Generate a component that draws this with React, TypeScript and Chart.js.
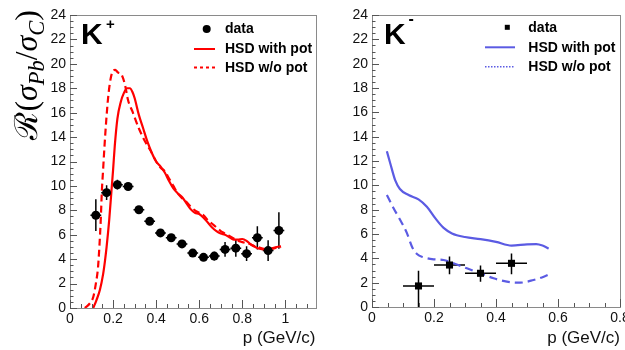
import React, { useEffect, useRef } from 'react';
import { Chart, registerables } from 'chart.js';

Chart.register(...registerables);

// ---------- K+ panel data ----------
const kpP = [0.12, 0.17, 0.22, 0.27, 0.32, 0.37, 0.42, 0.47, 0.52, 0.57, 0.62, 0.67, 0.72, 0.77, 0.82, 0.87, 0.92, 0.97];
const kpR = [7.6, 9.45, 10.1, 9.95, 8.05, 7.1, 6.15, 5.75, 5.25, 4.5, 4.15, 4.25, 4.8, 4.9, 4.45, 5.75, 4.7, 6.35];
const kpErr = [1.3, 0.6, 0.4, 0.3, 0.25, 0.25, 0.3, 0.3, 0.3, 0.3, 0.3, 0.35, 0.6, 0.7, 0.6, 0.95, 0.85, 1.5];
const kpErrP = 0.025;

const kpWithP = [0.108, 0.123, 0.139, 0.154, 0.162, 0.17, 0.182, 0.193, 0.2, 0.208, 0.22, 0.236, 0.25, 0.265, 0.278, 0.29, 0.30, 0.32, 0.34, 0.36, 0.38, 0.40, 0.42, 0.44, 0.46, 0.48, 0.50, 0.52, 0.54, 0.56, 0.58, 0.60, 0.62, 0.64, 0.66, 0.68, 0.70, 0.72, 0.74, 0.76, 0.78, 0.80, 0.82, 0.84, 0.86, 0.88, 0.90, 0.92, 0.94, 0.96, 0.98];
const kpWithR = [0, 0.65, 1.5, 2.8, 3.8, 5.0, 7.2, 9.7, 11.3, 13.3, 15.5, 16.9, 17.6, 18.0, 18.0, 17.7, 17.2, 15.8, 14.7, 13.6, 12.7, 12.0, 11.6, 11.1, 10.4, 9.8, 9.4, 9.1, 8.6, 8.1, 7.8, 7.7, 7.4, 7.0, 6.6, 6.3, 6.1, 6.0, 5.8, 5.6, 5.6, 5.65, 5.5, 5.2, 5.0, 4.85, 4.8, 4.8, 4.9, 5.0, 5.05];

const kpNoP = [0.069, 0.093, 0.108, 0.12, 0.13, 0.137, 0.143, 0.148, 0.154, 0.16, 0.168, 0.178, 0.19, 0.2, 0.21, 0.222, 0.24, 0.255, 0.27, 0.29, 0.32, 0.35, 0.38, 0.40, 0.42, 0.44, 0.46, 0.48, 0.50, 0.52, 0.54, 0.56, 0.58, 0.60, 0.62, 0.64, 0.66, 0.68, 0.70, 0.72, 0.74, 0.76, 0.78, 0.80, 0.82, 0.84, 0.86, 0.88, 0.90, 0.92, 0.94, 0.96, 0.98];
const kpNoR = [0, 0.4, 0.9, 2.0, 3.3, 5.2, 7.3, 9.6, 11.4, 13.2, 15.3, 17.4, 18.9, 19.4, 19.5, 19.3, 19.1, 18.3, 17.0, 16.1, 14.7, 13.6, 12.7, 12.0, 11.5, 11.2, 10.6, 10.0, 9.4, 9.0, 8.7, 8.3, 8.0, 7.8, 7.6, 7.2, 6.9, 6.6, 6.3, 6.1, 5.9, 5.7, 5.5, 5.4, 5.3, 5.2, 5.05, 4.95, 4.85, 4.8, 4.85, 4.95, 5.0];

// ---------- K- panel data ----------
const kmP = [0.15, 0.25, 0.35, 0.45];
const kmR = [1.73, 3.45, 2.77, 3.59];
const kmErrLo = [1.73, 0.75, 0.7, 0.9];
const kmErrHi = [1.25, 0.7, 0.65, 0.8];
const kmErrP = 0.05;

const kmWithP = [0.048, 0.059, 0.075, 0.09, 0.118, 0.15, 0.177, 0.204, 0.231, 0.258, 0.3, 0.35, 0.4, 0.45, 0.5, 0.53, 0.55, 0.57];
const kmWithR = [12.8, 11.8, 10.4, 9.7, 9.2, 8.85, 8.24, 7.3, 6.5, 6.05, 5.75, 5.58, 5.35, 5.05, 5.15, 5.17, 5.05, 4.8];

const kmNoP = [0.048, 0.07, 0.091, 0.113, 0.129, 0.145, 0.167, 0.199, 0.231, 0.263, 0.306, 0.349, 0.392, 0.435, 0.478, 0.521, 0.554, 0.58];
const kmNoR = [9.2, 8.1, 7.15, 6.05, 4.95, 4.35, 4.08, 3.92, 3.86, 3.59, 3.18, 2.77, 2.36, 2.08, 2.0, 2.22, 2.49, 2.77];

// ---------- ticks / labels ----------
const yTicks = [0, 2, 4, 6, 8, 10, 12, 14, 16, 18, 20, 22, 24];
const kpXTicks = [0, 0.2, 0.4, 0.6, 0.8, 1.0];
const kmXTicks = [0, 0.2, 0.4, 0.6, 0.8];
const xTitle = 'p (GeV/c)';
const legendLabels = ['data', 'HSD with pot', 'HSD w/o pot'];

const RED = '#ff0000';
const BLUE = '#5b5be3';
const SANS = '"Liberation Sans", Arial, Helvetica, sans-serif';
const SERIF = '"Liberation Serif", "DejaVu Serif", serif';

const pts = (xs: number[], ys: number[]) => xs.map((x, i) => ({ x, y: ys[i] }));

type Deco = {
  xMax: number;
  errX: number[]; errY: number[]; errLo: number[]; errHi: number[]; errP: number;
  particle: string; sup: string; supFont: string; kx: number; supX: number; supY: number;
  marker: 'circle' | 'rect';
  color: string; legDash: number[]; legDashWidth: number;
  legMarkX: number; legLineX0: number; legLineX1: number; legTextX: number; legY: number[];
  yTitle: boolean;
};

function drawYTitle(ctx: CanvasRenderingContext2D) {
  const S = 27, s = 19;
  const parts = [
    { t: '\u211B', f: `${S}px ${SERIF}`, dy: 0 },
    { t: '(', f: `${S}px ${SERIF}`, dy: 0 },
    { t: '\u03C3', f: `italic ${S}px ${SERIF}`, dy: 0 },
    { t: 'Pb', f: `italic ${s}px ${SERIF}`, dy: 6 },
    { t: '/', f: `${S}px ${SERIF}`, dy: 0 },
    { t: '\u03C3', f: `italic ${S}px ${SERIF}`, dy: 0 },
    { t: 'C', f: `italic ${s}px ${SERIF}`, dy: 6 },
    { t: ')', f: `${S}px ${SERIF}`, dy: 0 },
  ];
  let total = 0;
  const w: number[] = [];
  for (const p of parts) { ctx.font = p.f; const m = ctx.measureText(p.t).width; w.push(m); total += m; }
  const k = 130 / total;
  ctx.save();
  ctx.translate(37, 140);
  ctx.rotate(-Math.PI / 2);
  ctx.scale(k, k);
  ctx.fillStyle = '#000';
  ctx.textBaseline = 'alphabetic';
  ctx.textAlign = 'left';
  let x = 0;
  parts.forEach((p, i) => { ctx.font = p.f; ctx.fillText(p.t, x, p.dy); x += w[i]; });
  ctx.restore();
}

function makeDeco(d: Deco) {
  return {
    id: 'rootDeco',
    beforeDatasetsDraw(chart: any) {
      const ctx: CanvasRenderingContext2D = chart.ctx;
      const xs = chart.scales.x, ys = chart.scales.y;
      ctx.save();
      ctx.strokeStyle = '#000';
      ctx.lineWidth = 1.5;
      d.errX.forEach((xv, i) => {
        const px = xs.getPixelForValue(xv), py = ys.getPixelForValue(d.errY[i]);
        const x0 = xs.getPixelForValue(xv - d.errP), x1 = xs.getPixelForValue(xv + d.errP);
        const y0 = ys.getPixelForValue(d.errY[i] - d.errLo[i]), y1 = ys.getPixelForValue(d.errY[i] + d.errHi[i]);
        ctx.beginPath();
        ctx.moveTo(x0, py); ctx.lineTo(x1, py);
        ctx.moveTo(px, y0); ctx.lineTo(px, y1);
        ctx.stroke();
      });
      ctx.restore();
    },
    afterDraw(chart: any) {
      const ctx: CanvasRenderingContext2D = chart.ctx;
      const { left, right, top, bottom } = chart.chartArea;
      const xs = chart.scales.x, ys = chart.scales.y;
      ctx.save();
      // frame
      ctx.strokeStyle = '#8a8a8a';
      ctx.lineWidth = 1;
      ctx.strokeRect(Math.round(left) + 0.5, Math.round(top) + 0.5, Math.round(right - left), Math.round(bottom - top));
      // ticks (inside, ROOT style)
      ctx.strokeStyle = '#555';
      ctx.beginPath();
      for (let i = 0; i <= 48; i++) {
        const py = Math.round(ys.getPixelForValue(i * 0.5)) + 0.5;
        const len = i % 4 === 0 ? 7 : 3.5;
        ctx.moveTo(left, py); ctx.lineTo(left + len, py);
      }
      const nx = Math.floor(d.xMax / 0.05 + 1e-6);
      for (let i = 0; i <= nx; i++) {
        const px = Math.round(xs.getPixelForValue(i * 0.05)) + 0.5;
        const len = i % 4 === 0 ? 8 : 4;
        ctx.moveTo(px, bottom); ctx.lineTo(px, bottom - len);
      }
      ctx.stroke();
      // particle label
      ctx.fillStyle = '#000';
      ctx.textAlign = 'left';
      ctx.textBaseline = 'alphabetic';
      ctx.font = `bold 30px ${SANS}`;
      ctx.fillText(d.particle, d.kx, 43.5);
      ctx.font = d.supFont;
      ctx.fillText(d.sup, d.supX, d.supY);
      // legend
      ctx.fillStyle = '#000';
      if (d.marker === 'circle') {
        ctx.beginPath(); ctx.arc(d.legMarkX, d.legY[0], 4, 0, Math.PI * 2); ctx.fill();
      } else {
        ctx.fillRect(d.legMarkX - 2.5, d.legY[0] - 2.5, 5, 5);
      }
      ctx.strokeStyle = d.color;
      ctx.lineWidth = 2;
      ctx.setLineDash([]);
      ctx.beginPath(); ctx.moveTo(d.legLineX0, d.legY[1]); ctx.lineTo(d.legLineX1, d.legY[1]); ctx.stroke();
      ctx.lineWidth = d.legDashWidth;
      ctx.setLineDash(d.legDash);
      ctx.beginPath(); ctx.moveTo(d.legLineX0, d.legY[2]); ctx.lineTo(d.legLineX1, d.legY[2]); ctx.stroke();
      ctx.setLineDash([]);
      ctx.font = `bold 14px ${SANS}`;
      ctx.textBaseline = 'middle';
      legendLabels.forEach((t, i) => ctx.fillText(t, d.legTextX, d.legY[i] + 0.5));
      ctx.restore();
      if (d.yTitle) drawYTitle(ctx);
    },
  };
}

function buildConfig(opts: {
  dataP: number[]; dataR: number[]; withP: number[]; withR: number[]; noP: number[]; noR: number[];
  color: string; dash: number[]; marker: 'circle' | 'rect'; radius: number;
  xMax: number; xTicks: number[]; yWidth: number; xHeight: number; padRight: number; deco: Deco;
}): any {
  const fmt = (v: any) => String(Number(Number(v).toFixed(2)));
  return {
    type: 'scatter',
    data: {
      datasets: [
        {
          label: legendLabels[0], data: pts(opts.dataP, opts.dataR), showLine: false,
          pointStyle: opts.marker, pointRadius: opts.radius, pointBackgroundColor: '#000',
          pointBorderColor: '#000', pointBorderWidth: 0,
        },
        {
          label: legendLabels[1], data: pts(opts.withP, opts.withR), showLine: true,
          borderColor: opts.color, borderWidth: 2.2, pointRadius: 0, cubicInterpolationMode: 'monotone',
          fill: false,
        },
        {
          label: legendLabels[2], data: pts(opts.noP, opts.noR), showLine: true,
          borderColor: opts.color, borderWidth: 2.2, borderDash: opts.dash, pointRadius: 0,
          cubicInterpolationMode: 'monotone', fill: false,
        },
      ],
    },
    options: {
      animation: false,
      responsive: false,
      events: [],
      layout: { padding: { left: 0, right: opts.padRight, top: 15, bottom: 0 } },
      plugins: { legend: { display: false }, tooltip: { enabled: false } },
      scales: {
        x: {
          type: 'linear', min: 0, max: opts.xMax,
          grid: { display: false, drawTicks: false },
          border: { display: false },
          afterBuildTicks: (s: any) => { s.ticks = opts.xTicks.map((v) => ({ value: v })); },
          afterFit: (s: any) => { s.height = opts.xHeight; },
          ticks: { font: { size: 14, family: SANS }, color: '#111', padding: 3, maxRotation: 0, autoSkip: false, callback: fmt },
          title: {
            display: true, text: xTitle, align: 'end', color: '#111',
            font: { size: 17, family: SANS }, padding: { top: 0, bottom: 1 },
          },
        },
        y: {
          type: 'linear', min: 0, max: 24,
          grid: { display: false, drawTicks: false },
          border: { display: false },
          afterBuildTicks: (s: any) => { s.ticks = yTicks.map((v) => ({ value: v })); },
          afterFit: (s: any) => { s.width = opts.yWidth; },
          ticks: { font: { size: 14, family: SANS }, color: '#111', padding: 4, autoSkip: false, callback: fmt },
        },
      },
    },
    plugins: [makeDeco(opts.deco)],
  };
}

function Panel(props: { left: number; width: number; cfg: () => any }) {
  const ref = useRef<HTMLCanvasElement | null>(null);
  useEffect(() => {
    if (!ref.current) return;
    const chart = new Chart(ref.current, props.cfg());
    return () => chart.destroy();
  }, []);
  return (
    <canvas
      ref={ref}
      width={props.width}
      height={350}
      style={{ position: 'absolute', left: props.left, top: 0, width: props.width, height: 350, display: 'block' }}
    />
  );
}

export default function App() {
  const leftCfg = () =>
    buildConfig({
      dataP: kpP, dataR: kpR, withP: kpWithP, withR: kpWithR, noP: kpNoP, noR: kpNoR,
      color: RED, dash: [7, 4], marker: 'circle', radius: 4.5,
      xMax: 1.14, xTicks: kpXTicks, yWidth: 70, xHeight: 42, padRight: 4,
      deco: {
        xMax: 1.14, errX: kpP, errY: kpR, errLo: kpErr, errHi: kpErr, errP: kpErrP,
        particle: 'K', sup: '+', supFont: `bold 15px ${SANS}`, kx: 81, supX: 106, supY: 29,
        marker: 'circle', color: RED, legDash: [3, 3], legDashWidth: 2,
        legMarkX: 206.7, legLineX0: 194, legLineX1: 215, legTextX: 225, legY: [29, 49, 67.5],
        yTitle: true,
      },
    });
  const rightCfg = () =>
    buildConfig({
      dataP: kmP, dataR: kmR, withP: kmWithP, withR: kmWithR, noP: kmNoP, noR: kmNoR,
      color: BLUE, dash: [8, 5], marker: 'rect', radius: 5,
      xMax: 0.8, xTicks: kmXTicks, yWidth: 52, xHeight: 43, padRight: 20,
      deco: {
        xMax: 0.8, errX: kmP, errY: kmR, errLo: kmErrLo, errHi: kmErrHi, errP: kmErrP,
        particle: 'K', sup: '-', supFont: `bold 16px ${SANS}`, kx: 64, supX: 88.5, supY: 24,
        marker: 'rect', color: BLUE, legDash: [1.5, 1.5], legDashWidth: 1.5,
        legMarkX: 187.3, legLineX0: 165, legLineX1: 195, legTextX: 208.3, legY: [27.3, 47.3, 66.7],
        yTitle: false,
      },
    });
  return (
    <div style={{ position: 'fixed', left: 0, top: 0, width: 625, height: 350, overflow: 'hidden', background: '#fff' }}>
      <Panel left={0} width={320} cfg={leftCfg} />
      <Panel left={320} width={320} cfg={rightCfg} />
    </div>
  );
}
